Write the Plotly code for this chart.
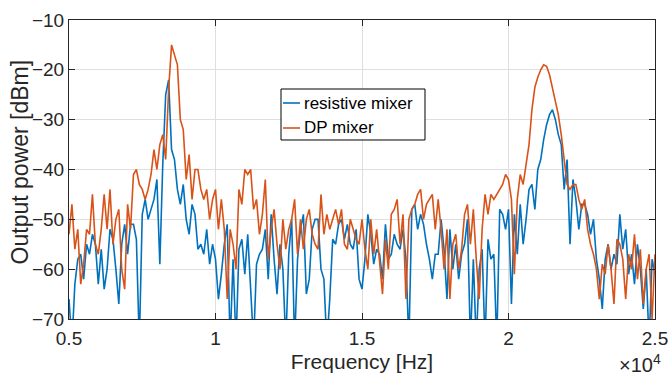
import plotly.graph_objects as go

# Frequency grid (Hz), 100 Hz spacing from 5 kHz to 25 kHz
freq_hz = list(range(5000, 25001, 100))

# Output power [dBm], 10 values per kHz block
resistive_dbm = [
    -66, -75, -63, -58, -57, -62, -55, -57, -53, -55,
    -63, -56, -64, -60, -52, -54, -60, -67, -55, -51,
    -57, -51, -51, -54, -75, -49, -46, -50, -48, -46,
    -42, -59, -39, -25, -22, -36, -38, -44, -47, -43,
    -50, -53, -47, -49, -56, -55, -57, -52, -59, -55,
    -58, -66, -61, -55, -51, -75, -58, -75, -56, -54,
    -61, -53, -64, -75, -59, -57, -56, -52, -62, -49,
    -58, -65, -55, -60, -75, -57, -50, -75, -58, -52,
    -49, -65, -62, -52, -50, -50, -60, -62, -75, -66,
    -54, -55, -51, -50, -54, -51, -55, -56, -52, -62,
    -64, -58, -49, -53, -59, -56, -57, -62, -51, -58,
    -57, -53, -55, -56, -52, -58, -75, -48, -47, -52,
    -49, -51, -55, -58, -62, -57, -57, -50, -56, -66,
    -52, -60, -55, -62, -57, -55, -50, -75, -58, -75,
    -60, -56, -75, -54, -58, -57, -75, -48, -49, -52,
    -48, -67, -49, -57, -47, -55, -50, -44, -43, -48,
    -40, -38, -34, -31, -29, -28, -30, -33, -35, -44,
    -38, -55, -42, -46, -52, -47, -47, -49, -53, -50,
    -58, -62, -68, -58, -55, -60, -57, -59, -49, -56,
    -52, -61, -57, -63, -55, -60, -68, -60, -75, -58,
    -61,
]

dp_dbm = [
    -53, -47, -56, -52, -63, -59, -52, -53, -45, -55,
    -57, -52, -45, -52, -44, -55, -50, -48, -60, -64,
    -47, -52, -41, -40, -43, -44, -46, -44, -41, -36,
    -40, -35, -33, -38, -24, -15, -17, -19, -30, -32,
    -42, -37, -46, -40, -40, -44, -46, -44, -50, -46,
    -44, -52, -46, -52, -66, -52, -55, -60, -44, -47,
    -40, -41, -40, -48, -46, -53, -49, -42, -58, -52,
    -48, -55, -60, -50, -56, -52, -50, -46, -57, -50,
    -56, -50, -48, -53, -55, -56, -45, -53, -49, -52,
    -50, -48, -51, -48, -55, -56, -50, -52, -54, -55,
    -50, -56, -60, -50, -57, -52, -58, -65, -54, -60,
    -49, -48, -46, -55, -49, -66, -50, -48, -47, -45,
    -44, -50, -47, -46, -45, -52, -46, -52, -60, -52,
    -66, -55, -53, -60, -56, -49, -47, -55, -48, -58,
    -66, -52, -45, -49, -45, -46, -45, -44, -43, -41,
    -42, -46, -61, -46, -41, -43, -39, -35, -28, -23.5,
    -21.5, -20, -19, -19.3, -21, -23.5, -26, -29, -33, -38,
    -43, -44, -43, -43, -46, -48, -46, -52, -55, -57,
    -60, -66, -59, -61, -55, -60, -67, -54, -55, -58,
    -66, -57, -60, -53, -62, -56, -67, -60, -57, -70,
    -57,
]

series_names = ["resistive mixer", "DP mixer"]
series_colors = ["#0072BD", "#D95319"]

x_tick_vals = [5000, 10000, 15000, 20000, 25000]
x_tick_text = ["0.5", "1", "1.5", "2", "2.5"]
y_tick_vals = [-70, -60, -50, -40, -30, -20, -10]
y_tick_text = ["\u221270", "\u221260", "\u221250", "\u221240", "\u221230", "\u221220", "\u221210"]

FONT = "Liberation Sans, Arial, Helvetica, sans-serif"
AX = "#262626"

fig = go.Figure()
for name, ys, col in zip(series_names, [resistive_dbm, dp_dbm], series_colors):
    fig.add_trace(go.Scatter(x=freq_hz, y=ys, mode="lines", name=name,
                             line=dict(color=col, width=1.6), showlegend=False))

axis_common = dict(showline=True, linecolor=AX, linewidth=1, mirror="ticks",
                   ticks="inside", ticklen=6, tickcolor=AX, tickwidth=1,
                   showgrid=True, gridcolor="#dfdfdf", gridwidth=1, zeroline=False,
                   automargin=False,
                   tickfont=dict(family=FONT, size=19, color=AX))

fig.update_xaxes(range=[5000, 25000], tickvals=x_tick_vals, ticktext=x_tick_text,
                 ticklabelstandoff=2,
                 title=dict(text="Frequency [Hz]", font=dict(family=FONT, size=21, color=AX), standoff=6),
                 **axis_common)
fig.update_yaxes(range=[-70, -10], tickvals=y_tick_vals, ticktext=y_tick_text,
                 **axis_common)

# Manual legend (MATLAB style: short line samples)
shapes = [dict(type="rect", xref="paper", yref="paper", x0=0.3618, x1=0.6075, y0=0.5987, y1=0.7692,
               line=dict(color="#000000", width=1), fillcolor="white", layer="above")]
annotations = []
row_y = [0.7224, 0.6388]
for name, col, yy in zip(series_names, series_colors, row_y):
    shapes.append(dict(type="line", xref="paper", yref="paper", x0=0.3652, x1=0.3942, y0=yy, y1=yy,
                       line=dict(color=col, width=1.6), layer="above"))
    annotations.append(dict(xref="paper", yref="paper", x=0.3976, y=yy, xanchor="left", yanchor="middle",
                            text=name, showarrow=False, font=dict(family=FONT, size=17, color="#000000")))

# y-axis title (MATLAB-like placement)
annotations.append(dict(xref="paper", yref="paper", x=-0.083, y=0.525, xanchor="center", yanchor="middle",
                        text="Output power [dBm]", textangle=-90, showarrow=False,
                        font=dict(family=FONT, size=23, color=AX)))

# x10^4 exponent label
annotations.append(dict(xref="paper", yref="paper", x=1.014, y=-0.196, xanchor="right", yanchor="bottom",
                        text="\u00d710<sup>4</sup>", showarrow=False,
                        font=dict(family=FONT, size=20, color=AX)))

fig.update_layout(width=672, height=378, margin=dict(l=69, r=17, t=20, b=59),
                  paper_bgcolor="white", plot_bgcolor="white",
                  shapes=shapes, annotations=annotations)

fig.write_html("out.html")
